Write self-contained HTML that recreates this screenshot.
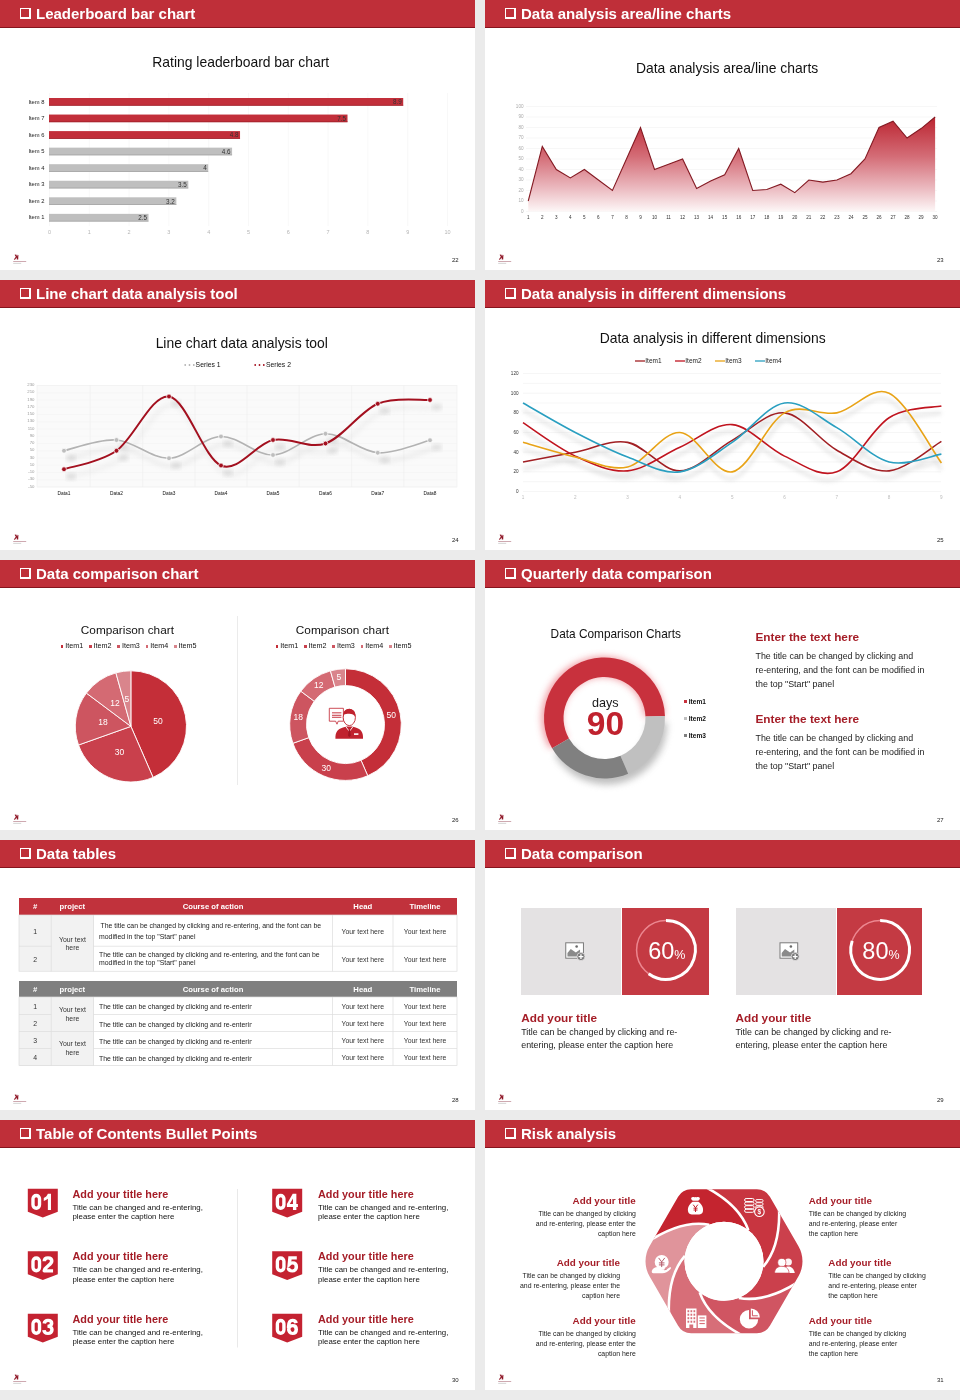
<!DOCTYPE html><html><head><meta charset="utf-8"><style>
*{box-sizing:border-box}
body{margin:0;background:#ebebeb;width:960px;height:1400px;position:relative;overflow:hidden;font-family:"Liberation Sans",sans-serif;color:#222}
.s{position:absolute;width:475px;height:270px;background:#fff;overflow:hidden;will-change:transform}
.hd{position:absolute;left:0;top:0;width:475px;height:28px;background:#bf2f39;border-bottom:1px solid #86141d;color:#fff;font-weight:bold;font-size:15px;line-height:28px;padding-left:36px;white-space:nowrap}
.cb{position:absolute;left:20px;top:8px;width:11px;height:11px;border:1px solid #fff;border-right-width:2px;border-bottom-width:2px}
.pn{position:absolute;left:446.3px;top:257.2px;width:12.3px;text-align:right;font-size:6px;line-height:7px;color:#222}
.logo{position:absolute}
.a{position:absolute;white-space:nowrap}
.t{position:absolute;white-space:nowrap;text-align:center;font-size:14px;color:#111}
svg{position:absolute;left:0;top:0;overflow:visible}
</style></head><body><div class="s" style="left:0px;top:0px"><div class="hd"><span class="cb"></span>Leaderboard bar chart</div><div class="a" style="left:240.75px;top:54.01px;width:0;font-size:13.90px;line-height:15.98px;color:#111;"><span style="position:absolute;left:0;top:0;transform:translateX(-50%)">Rating leaderboard bar chart</span></div><svg width="475" height="270"><line x1="49.5" y1="93" x2="49.5" y2="226" stroke="#f4f4f4" stroke-width="0.6"/><line x1="89.3" y1="93" x2="89.3" y2="226" stroke="#f4f4f4" stroke-width="0.6"/><line x1="129.1" y1="93" x2="129.1" y2="226" stroke="#f4f4f4" stroke-width="0.6"/><line x1="168.9" y1="93" x2="168.9" y2="226" stroke="#f4f4f4" stroke-width="0.6"/><line x1="208.7" y1="93" x2="208.7" y2="226" stroke="#f4f4f4" stroke-width="0.6"/><line x1="248.5" y1="93" x2="248.5" y2="226" stroke="#f4f4f4" stroke-width="0.6"/><line x1="288.3" y1="93" x2="288.3" y2="226" stroke="#f4f4f4" stroke-width="0.6"/><line x1="328.1" y1="93" x2="328.1" y2="226" stroke="#f4f4f4" stroke-width="0.6"/><line x1="367.9" y1="93" x2="367.9" y2="226" stroke="#f4f4f4" stroke-width="0.6"/><line x1="407.7" y1="93" x2="407.7" y2="226" stroke="#f4f4f4" stroke-width="0.6"/><line x1="447.5" y1="93" x2="447.5" y2="226" stroke="#f4f4f4" stroke-width="0.6"/><rect x="49" y="98.00" width="354.22" height="7.5" fill="#c22f3a"/><rect x="49" y="104.90" width="354.22" height="0.8" fill="#9e1f28"/><rect x="49" y="114.55" width="298.50" height="7.5" fill="#c22f3a"/><rect x="49" y="121.45" width="298.50" height="0.8" fill="#9e1f28"/><rect x="49" y="131.10" width="191.04" height="7.5" fill="#c22f3a"/><rect x="49" y="138.00" width="191.04" height="0.8" fill="#9e1f28"/><rect x="49" y="147.65" width="183.08" height="7.5" fill="#bfbfbf"/><rect x="49" y="154.55" width="183.08" height="0.8" fill="#a3a3a3"/><rect x="49" y="164.20" width="159.20" height="7.5" fill="#bfbfbf"/><rect x="49" y="171.10" width="159.20" height="0.8" fill="#a3a3a3"/><rect x="49" y="180.75" width="139.30" height="7.5" fill="#bfbfbf"/><rect x="49" y="187.65" width="139.30" height="0.8" fill="#a3a3a3"/><rect x="49" y="197.30" width="127.36" height="7.5" fill="#bfbfbf"/><rect x="49" y="204.20" width="127.36" height="0.8" fill="#a3a3a3"/><rect x="49" y="213.85" width="99.50" height="7.5" fill="#bfbfbf"/><rect x="49" y="220.75" width="99.50" height="0.8" fill="#a3a3a3"/></svg><div class="a" style="right:430.50px;top:98.57px;font-size:5.80px;line-height:6.67px;color:#222;">Item 8</div><div class="a" style="right:73.28px;top:98.28px;font-size:6.30px;line-height:7.24px;color:#333;">8.9</div><div class="a" style="right:430.50px;top:115.12px;font-size:5.80px;line-height:6.67px;color:#222;">Item 7</div><div class="a" style="right:129.00px;top:114.83px;font-size:6.30px;line-height:7.24px;color:#333;">7.5</div><div class="a" style="right:430.50px;top:131.66px;font-size:5.80px;line-height:6.67px;color:#222;">Item 6</div><div class="a" style="right:236.46px;top:131.38px;font-size:6.30px;line-height:7.24px;color:#333;">4.8</div><div class="a" style="right:430.50px;top:148.22px;font-size:5.80px;line-height:6.67px;color:#222;">Item 5</div><div class="a" style="right:244.42px;top:147.93px;font-size:6.30px;line-height:7.24px;color:#333;">4.6</div><div class="a" style="right:430.50px;top:164.76px;font-size:5.80px;line-height:6.67px;color:#222;">Item 4</div><div class="a" style="right:268.30px;top:164.48px;font-size:6.30px;line-height:7.24px;color:#333;">4</div><div class="a" style="right:430.50px;top:181.31px;font-size:5.80px;line-height:6.67px;color:#222;">Item 3</div><div class="a" style="right:288.20px;top:181.03px;font-size:6.30px;line-height:7.24px;color:#333;">3.5</div><div class="a" style="right:430.50px;top:197.87px;font-size:5.80px;line-height:6.67px;color:#222;">Item 2</div><div class="a" style="right:300.14px;top:197.58px;font-size:6.30px;line-height:7.24px;color:#333;">3.2</div><div class="a" style="right:430.50px;top:214.42px;font-size:5.80px;line-height:6.67px;color:#222;">Item 1</div><div class="a" style="right:328.00px;top:214.13px;font-size:6.30px;line-height:7.24px;color:#333;">2.5</div><div class="a" style="left:49.50px;top:229.34px;width:0;font-size:5.50px;line-height:6.32px;color:#b5b5b5;"><span style="position:absolute;left:0;top:0;transform:translateX(-50%)">0</span></div><div class="a" style="left:89.30px;top:229.34px;width:0;font-size:5.50px;line-height:6.32px;color:#b5b5b5;"><span style="position:absolute;left:0;top:0;transform:translateX(-50%)">1</span></div><div class="a" style="left:129.10px;top:229.34px;width:0;font-size:5.50px;line-height:6.32px;color:#b5b5b5;"><span style="position:absolute;left:0;top:0;transform:translateX(-50%)">2</span></div><div class="a" style="left:168.90px;top:229.34px;width:0;font-size:5.50px;line-height:6.32px;color:#b5b5b5;"><span style="position:absolute;left:0;top:0;transform:translateX(-50%)">3</span></div><div class="a" style="left:208.70px;top:229.34px;width:0;font-size:5.50px;line-height:6.32px;color:#b5b5b5;"><span style="position:absolute;left:0;top:0;transform:translateX(-50%)">4</span></div><div class="a" style="left:248.50px;top:229.34px;width:0;font-size:5.50px;line-height:6.32px;color:#b5b5b5;"><span style="position:absolute;left:0;top:0;transform:translateX(-50%)">5</span></div><div class="a" style="left:288.30px;top:229.34px;width:0;font-size:5.50px;line-height:6.32px;color:#b5b5b5;"><span style="position:absolute;left:0;top:0;transform:translateX(-50%)">6</span></div><div class="a" style="left:328.10px;top:229.34px;width:0;font-size:5.50px;line-height:6.32px;color:#b5b5b5;"><span style="position:absolute;left:0;top:0;transform:translateX(-50%)">7</span></div><div class="a" style="left:367.90px;top:229.34px;width:0;font-size:5.50px;line-height:6.32px;color:#b5b5b5;"><span style="position:absolute;left:0;top:0;transform:translateX(-50%)">8</span></div><div class="a" style="left:407.70px;top:229.34px;width:0;font-size:5.50px;line-height:6.32px;color:#b5b5b5;"><span style="position:absolute;left:0;top:0;transform:translateX(-50%)">9</span></div><div class="a" style="left:447.50px;top:229.34px;width:0;font-size:5.50px;line-height:6.32px;color:#b5b5b5;"><span style="position:absolute;left:0;top:0;transform:translateX(-50%)">10</span></div><svg class="logo" width="16" height="12" viewBox="0 0 16 12" style="left:12px;top:253px"><path d="M2.6 1.8 L4.2 1.6 L5.2 3.6 L5.6 1.8 L6.4 2 L6.2 6.6 L4.8 6.6 L4.6 4.6 L3 6.8 L1.8 6.6 L3.8 3.8Z" fill="#8e1525"/><rect x="1.2" y="8" width="13" height="0.9" fill="#c9a0a8"/><rect x="1.2" y="9.9" width="8" height="0.7" fill="#c4c4c4"/></svg><div class="pn">22</div></div><div class="s" style="left:485px;top:0px"><div class="hd"><span class="cb"></span>Data analysis area/line charts</div><div class="a" style="left:242.10px;top:59.51px;width:0;font-size:13.90px;line-height:15.98px;color:#111;"><span style="position:absolute;left:0;top:0;transform:translateX(-50%)">Data analysis area/line charts</span></div><svg width="475" height="270"><defs><linearGradient id="ag" x1="0" y1="117.0" x2="0" y2="211.5" gradientUnits="userSpaceOnUse"><stop offset="0" stop-color="#bb2430"/><stop offset="0.42" stop-color="#d46d77"/><stop offset="0.75" stop-color="#ebb9bf"/><stop offset="1" stop-color="#fdf7f7"/></linearGradient></defs><line x1="41" y1="211.50" x2="452" y2="211.50" stroke="#f3f3f3" stroke-width="0.7"/><line x1="41" y1="201.00" x2="452" y2="201.00" stroke="#f3f3f3" stroke-width="0.7"/><line x1="41" y1="190.50" x2="452" y2="190.50" stroke="#f3f3f3" stroke-width="0.7"/><line x1="41" y1="180.00" x2="452" y2="180.00" stroke="#f3f3f3" stroke-width="0.7"/><line x1="41" y1="169.50" x2="452" y2="169.50" stroke="#f3f3f3" stroke-width="0.7"/><line x1="41" y1="159.00" x2="452" y2="159.00" stroke="#f3f3f3" stroke-width="0.7"/><line x1="41" y1="148.50" x2="452" y2="148.50" stroke="#f3f3f3" stroke-width="0.7"/><line x1="41" y1="138.00" x2="452" y2="138.00" stroke="#f3f3f3" stroke-width="0.7"/><line x1="41" y1="127.50" x2="452" y2="127.50" stroke="#f3f3f3" stroke-width="0.7"/><line x1="41" y1="117.00" x2="452" y2="117.00" stroke="#f3f3f3" stroke-width="0.7"/><line x1="41" y1="106.50" x2="452" y2="106.50" stroke="#f3f3f3" stroke-width="0.7"/><path d="M43.25 201.00 L57.28 146.40 L71.31 169.50 L85.34 177.90 L99.37 169.50 L113.40 180.00 L127.43 190.50 L141.46 159.00 L155.49 127.50 L169.52 169.50 L183.55 164.25 L197.58 159.00 L211.61 188.40 L225.64 181.05 L239.67 174.75 L253.70 148.50 L267.73 190.50 L281.76 189.45 L295.79 184.20 L309.82 192.60 L323.85 180.00 L337.88 182.10 L351.91 180.00 L365.94 173.70 L379.97 159.00 L394.00 127.50 L408.03 121.20 L422.06 138.00 L436.09 128.55 L450.12 117.00 L450.12 211.5 L43.25 211.5Z" fill="url(#ag)"/><path d="M43.25 201.00 L57.28 146.40 L71.31 169.50 L85.34 177.90 L99.37 169.50 L113.40 180.00 L127.43 190.50 L141.46 159.00 L155.49 127.50 L169.52 169.50 L183.55 164.25 L197.58 159.00 L211.61 188.40 L225.64 181.05 L239.67 174.75 L253.70 148.50 L267.73 190.50 L281.76 189.45 L295.79 184.20 L309.82 192.60 L323.85 180.00 L337.88 182.10 L351.91 180.00 L365.94 173.70 L379.97 159.00 L394.00 127.50 L408.03 121.20 L422.06 138.00 L436.09 128.55 L450.12 117.00" fill="none" stroke="#841a23" stroke-width="1.1"/></svg><div class="a" style="right:436.50px;top:208.85px;font-size:4.60px;line-height:5.29px;color:#aaa;">0</div><div class="a" style="right:436.50px;top:198.35px;font-size:4.60px;line-height:5.29px;color:#aaa;">10</div><div class="a" style="right:436.50px;top:187.85px;font-size:4.60px;line-height:5.29px;color:#aaa;">20</div><div class="a" style="right:436.50px;top:177.35px;font-size:4.60px;line-height:5.29px;color:#aaa;">30</div><div class="a" style="right:436.50px;top:166.85px;font-size:4.60px;line-height:5.29px;color:#aaa;">40</div><div class="a" style="right:436.50px;top:156.35px;font-size:4.60px;line-height:5.29px;color:#aaa;">50</div><div class="a" style="right:436.50px;top:145.85px;font-size:4.60px;line-height:5.29px;color:#aaa;">60</div><div class="a" style="right:436.50px;top:135.35px;font-size:4.60px;line-height:5.29px;color:#aaa;">70</div><div class="a" style="right:436.50px;top:124.86px;font-size:4.60px;line-height:5.29px;color:#aaa;">80</div><div class="a" style="right:436.50px;top:114.36px;font-size:4.60px;line-height:5.29px;color:#aaa;">90</div><div class="a" style="right:436.50px;top:103.86px;font-size:4.60px;line-height:5.29px;color:#aaa;">100</div><div class="a" style="left:43.25px;top:214.85px;width:0;font-size:4.60px;line-height:5.29px;color:#333;"><span style="position:absolute;left:0;top:0;transform:translateX(-50%)">1</span></div><div class="a" style="left:57.28px;top:214.85px;width:0;font-size:4.60px;line-height:5.29px;color:#333;"><span style="position:absolute;left:0;top:0;transform:translateX(-50%)">2</span></div><div class="a" style="left:71.31px;top:214.85px;width:0;font-size:4.60px;line-height:5.29px;color:#333;"><span style="position:absolute;left:0;top:0;transform:translateX(-50%)">3</span></div><div class="a" style="left:85.34px;top:214.85px;width:0;font-size:4.60px;line-height:5.29px;color:#333;"><span style="position:absolute;left:0;top:0;transform:translateX(-50%)">4</span></div><div class="a" style="left:99.37px;top:214.85px;width:0;font-size:4.60px;line-height:5.29px;color:#333;"><span style="position:absolute;left:0;top:0;transform:translateX(-50%)">5</span></div><div class="a" style="left:113.40px;top:214.85px;width:0;font-size:4.60px;line-height:5.29px;color:#333;"><span style="position:absolute;left:0;top:0;transform:translateX(-50%)">6</span></div><div class="a" style="left:127.43px;top:214.85px;width:0;font-size:4.60px;line-height:5.29px;color:#333;"><span style="position:absolute;left:0;top:0;transform:translateX(-50%)">7</span></div><div class="a" style="left:141.46px;top:214.85px;width:0;font-size:4.60px;line-height:5.29px;color:#333;"><span style="position:absolute;left:0;top:0;transform:translateX(-50%)">8</span></div><div class="a" style="left:155.49px;top:214.85px;width:0;font-size:4.60px;line-height:5.29px;color:#333;"><span style="position:absolute;left:0;top:0;transform:translateX(-50%)">9</span></div><div class="a" style="left:169.52px;top:214.85px;width:0;font-size:4.60px;line-height:5.29px;color:#333;"><span style="position:absolute;left:0;top:0;transform:translateX(-50%)">10</span></div><div class="a" style="left:183.55px;top:214.85px;width:0;font-size:4.60px;line-height:5.29px;color:#333;"><span style="position:absolute;left:0;top:0;transform:translateX(-50%)">11</span></div><div class="a" style="left:197.58px;top:214.85px;width:0;font-size:4.60px;line-height:5.29px;color:#333;"><span style="position:absolute;left:0;top:0;transform:translateX(-50%)">12</span></div><div class="a" style="left:211.61px;top:214.85px;width:0;font-size:4.60px;line-height:5.29px;color:#333;"><span style="position:absolute;left:0;top:0;transform:translateX(-50%)">13</span></div><div class="a" style="left:225.64px;top:214.85px;width:0;font-size:4.60px;line-height:5.29px;color:#333;"><span style="position:absolute;left:0;top:0;transform:translateX(-50%)">14</span></div><div class="a" style="left:239.67px;top:214.85px;width:0;font-size:4.60px;line-height:5.29px;color:#333;"><span style="position:absolute;left:0;top:0;transform:translateX(-50%)">15</span></div><div class="a" style="left:253.70px;top:214.85px;width:0;font-size:4.60px;line-height:5.29px;color:#333;"><span style="position:absolute;left:0;top:0;transform:translateX(-50%)">16</span></div><div class="a" style="left:267.73px;top:214.85px;width:0;font-size:4.60px;line-height:5.29px;color:#333;"><span style="position:absolute;left:0;top:0;transform:translateX(-50%)">17</span></div><div class="a" style="left:281.76px;top:214.85px;width:0;font-size:4.60px;line-height:5.29px;color:#333;"><span style="position:absolute;left:0;top:0;transform:translateX(-50%)">18</span></div><div class="a" style="left:295.79px;top:214.85px;width:0;font-size:4.60px;line-height:5.29px;color:#333;"><span style="position:absolute;left:0;top:0;transform:translateX(-50%)">19</span></div><div class="a" style="left:309.82px;top:214.85px;width:0;font-size:4.60px;line-height:5.29px;color:#333;"><span style="position:absolute;left:0;top:0;transform:translateX(-50%)">20</span></div><div class="a" style="left:323.85px;top:214.85px;width:0;font-size:4.60px;line-height:5.29px;color:#333;"><span style="position:absolute;left:0;top:0;transform:translateX(-50%)">21</span></div><div class="a" style="left:337.88px;top:214.85px;width:0;font-size:4.60px;line-height:5.29px;color:#333;"><span style="position:absolute;left:0;top:0;transform:translateX(-50%)">22</span></div><div class="a" style="left:351.91px;top:214.85px;width:0;font-size:4.60px;line-height:5.29px;color:#333;"><span style="position:absolute;left:0;top:0;transform:translateX(-50%)">23</span></div><div class="a" style="left:365.94px;top:214.85px;width:0;font-size:4.60px;line-height:5.29px;color:#333;"><span style="position:absolute;left:0;top:0;transform:translateX(-50%)">24</span></div><div class="a" style="left:379.97px;top:214.85px;width:0;font-size:4.60px;line-height:5.29px;color:#333;"><span style="position:absolute;left:0;top:0;transform:translateX(-50%)">25</span></div><div class="a" style="left:394.00px;top:214.85px;width:0;font-size:4.60px;line-height:5.29px;color:#333;"><span style="position:absolute;left:0;top:0;transform:translateX(-50%)">26</span></div><div class="a" style="left:408.03px;top:214.85px;width:0;font-size:4.60px;line-height:5.29px;color:#333;"><span style="position:absolute;left:0;top:0;transform:translateX(-50%)">27</span></div><div class="a" style="left:422.06px;top:214.85px;width:0;font-size:4.60px;line-height:5.29px;color:#333;"><span style="position:absolute;left:0;top:0;transform:translateX(-50%)">28</span></div><div class="a" style="left:436.09px;top:214.85px;width:0;font-size:4.60px;line-height:5.29px;color:#333;"><span style="position:absolute;left:0;top:0;transform:translateX(-50%)">29</span></div><div class="a" style="left:450.12px;top:214.85px;width:0;font-size:4.60px;line-height:5.29px;color:#333;"><span style="position:absolute;left:0;top:0;transform:translateX(-50%)">30</span></div><svg class="logo" width="16" height="12" viewBox="0 0 16 12" style="left:12px;top:253px"><path d="M2.6 1.8 L4.2 1.6 L5.2 3.6 L5.6 1.8 L6.4 2 L6.2 6.6 L4.8 6.6 L4.6 4.6 L3 6.8 L1.8 6.6 L3.8 3.8Z" fill="#8e1525"/><rect x="1.2" y="8" width="13" height="0.9" fill="#c9a0a8"/><rect x="1.2" y="9.9" width="8" height="0.7" fill="#c4c4c4"/></svg><div class="pn">23</div></div><div class="s" style="left:0px;top:280px"><div class="hd"><span class="cb"></span>Line chart data analysis tool</div><div class="a" style="left:241.75px;top:55.01px;width:0;font-size:13.90px;line-height:15.98px;color:#111;"><span style="position:absolute;left:0;top:0;transform:translateX(-50%)">Line chart data analysis tool</span></div><svg width="475" height="270"><defs><filter id="sh3" x="-10%" y="-50%" width="120%" height="200%"><feGaussianBlur stdDeviation="2.5"/></filter></defs><rect x="37" y="105.5" width="420" height="101.5" fill="#fafafa" stroke="#efefef" stroke-width="0.6"/><line x1="37" y1="105.50" x2="457" y2="105.50" stroke="#f3f3f3" stroke-width="0.5"/><line x1="37" y1="112.75" x2="457" y2="112.75" stroke="#f3f3f3" stroke-width="0.5"/><line x1="37" y1="120.00" x2="457" y2="120.00" stroke="#f3f3f3" stroke-width="0.5"/><line x1="37" y1="127.25" x2="457" y2="127.25" stroke="#f3f3f3" stroke-width="0.5"/><line x1="37" y1="134.50" x2="457" y2="134.50" stroke="#f3f3f3" stroke-width="0.5"/><line x1="37" y1="141.75" x2="457" y2="141.75" stroke="#f3f3f3" stroke-width="0.5"/><line x1="37" y1="149.00" x2="457" y2="149.00" stroke="#f3f3f3" stroke-width="0.5"/><line x1="37" y1="156.25" x2="457" y2="156.25" stroke="#f3f3f3" stroke-width="0.5"/><line x1="37" y1="163.50" x2="457" y2="163.50" stroke="#f3f3f3" stroke-width="0.5"/><line x1="37" y1="170.75" x2="457" y2="170.75" stroke="#f3f3f3" stroke-width="0.5"/><line x1="37" y1="178.00" x2="457" y2="178.00" stroke="#f3f3f3" stroke-width="0.5"/><line x1="37" y1="185.25" x2="457" y2="185.25" stroke="#f3f3f3" stroke-width="0.5"/><line x1="37" y1="192.50" x2="457" y2="192.50" stroke="#f3f3f3" stroke-width="0.5"/><line x1="37" y1="199.75" x2="457" y2="199.75" stroke="#f3f3f3" stroke-width="0.5"/><line x1="37" y1="207.00" x2="457" y2="207.00" stroke="#f3f3f3" stroke-width="0.5"/><line x1="90.25" y1="105.5" x2="90.25" y2="207" stroke="#eeeeee" stroke-width="0.6"/><line x1="142.75" y1="105.5" x2="142.75" y2="207" stroke="#eeeeee" stroke-width="0.6"/><line x1="195.00" y1="105.5" x2="195.00" y2="207" stroke="#eeeeee" stroke-width="0.6"/><line x1="247.00" y1="105.5" x2="247.00" y2="207" stroke="#eeeeee" stroke-width="0.6"/><line x1="299.25" y1="105.5" x2="299.25" y2="207" stroke="#eeeeee" stroke-width="0.6"/><line x1="351.62" y1="105.5" x2="351.62" y2="207" stroke="#eeeeee" stroke-width="0.6"/><line x1="403.88" y1="105.5" x2="403.88" y2="207" stroke="#eeeeee" stroke-width="0.6"/><ellipse cx="71.00" cy="177.75" rx="5" ry="2.6" fill="#999" opacity="0.35" filter="url(#sh3)"/><ellipse cx="123.50" cy="167.00" rx="5" ry="2.6" fill="#999" opacity="0.35" filter="url(#sh3)"/><ellipse cx="176.00" cy="185.25" rx="5" ry="2.6" fill="#999" opacity="0.35" filter="url(#sh3)"/><ellipse cx="228.00" cy="163.50" rx="5" ry="2.6" fill="#999" opacity="0.35" filter="url(#sh3)"/><ellipse cx="280.00" cy="182.00" rx="5" ry="2.6" fill="#999" opacity="0.35" filter="url(#sh3)"/><ellipse cx="332.50" cy="160.75" rx="5" ry="2.6" fill="#999" opacity="0.35" filter="url(#sh3)"/><ellipse cx="384.75" cy="179.75" rx="5" ry="2.6" fill="#999" opacity="0.35" filter="url(#sh3)"/><ellipse cx="437.00" cy="167.25" rx="5" ry="2.6" fill="#999" opacity="0.35" filter="url(#sh3)"/><ellipse cx="71.00" cy="196.25" rx="5" ry="2.6" fill="#999" opacity="0.35" filter="url(#sh3)"/><ellipse cx="123.50" cy="177.75" rx="5" ry="2.6" fill="#999" opacity="0.35" filter="url(#sh3)"/><ellipse cx="176.00" cy="123.50" rx="5" ry="2.6" fill="#999" opacity="0.35" filter="url(#sh3)"/><ellipse cx="228.00" cy="192.50" rx="5" ry="2.6" fill="#999" opacity="0.35" filter="url(#sh3)"/><ellipse cx="280.00" cy="167.00" rx="5" ry="2.6" fill="#999" opacity="0.35" filter="url(#sh3)"/><ellipse cx="332.50" cy="170.50" rx="5" ry="2.6" fill="#999" opacity="0.35" filter="url(#sh3)"/><ellipse cx="384.75" cy="130.75" rx="5" ry="2.6" fill="#999" opacity="0.35" filter="url(#sh3)"/><ellipse cx="437.00" cy="127.00" rx="5" ry="2.6" fill="#999" opacity="0.35" filter="url(#sh3)"/><g filter="url(#sh3)" opacity="0.3" transform="translate(4,8)"><path d="M64.00 170.75 C72.75 168.96 99.00 158.75 116.50 160.00 C134.00 161.25 151.58 178.83 169.00 178.25 C186.42 177.67 203.67 157.04 221.00 156.50 C238.33 155.96 255.58 175.46 273.00 175.00 C290.42 174.54 308.04 154.12 325.50 153.75 C342.96 153.38 360.33 171.67 377.75 172.75 C395.17 173.83 421.29 162.33 430.00 160.25" fill="none" stroke="#bbb" stroke-width="3"/><path d="M64.00 189.25 C72.75 186.17 99.00 182.88 116.50 170.75 C134.00 158.62 151.58 114.04 169.00 116.50 C186.42 118.96 203.67 178.25 221.00 185.50 C238.33 192.75 255.58 163.67 273.00 160.00 C290.42 156.33 308.04 169.54 325.50 163.50 C342.96 157.46 360.33 131.00 377.75 123.75 C395.17 116.50 421.29 120.62 430.00 120.00" fill="none" stroke="#ccc" stroke-width="3"/></g><path d="M64.00 170.75 C72.75 168.96 99.00 158.75 116.50 160.00 C134.00 161.25 151.58 178.83 169.00 178.25 C186.42 177.67 203.67 157.04 221.00 156.50 C238.33 155.96 255.58 175.46 273.00 175.00 C290.42 174.54 308.04 154.12 325.50 153.75 C342.96 153.38 360.33 171.67 377.75 172.75 C395.17 173.83 421.29 162.33 430.00 160.25" fill="none" stroke="#b3b3b3" stroke-width="1.7"/><path d="M64.00 189.25 C72.75 186.17 99.00 182.88 116.50 170.75 C134.00 158.62 151.58 114.04 169.00 116.50 C186.42 118.96 203.67 178.25 221.00 185.50 C238.33 192.75 255.58 163.67 273.00 160.00 C290.42 156.33 308.04 169.54 325.50 163.50 C342.96 157.46 360.33 131.00 377.75 123.75 C395.17 116.50 421.29 120.62 430.00 120.00" fill="none" stroke="#a3101f" stroke-width="2"/><circle cx="64.00" cy="170.75" r="2.4" fill="#bdbdbd" stroke="#fff" stroke-width="0.7"/><circle cx="116.50" cy="160.00" r="2.4" fill="#bdbdbd" stroke="#fff" stroke-width="0.7"/><circle cx="169.00" cy="178.25" r="2.4" fill="#bdbdbd" stroke="#fff" stroke-width="0.7"/><circle cx="221.00" cy="156.50" r="2.4" fill="#bdbdbd" stroke="#fff" stroke-width="0.7"/><circle cx="273.00" cy="175.00" r="2.4" fill="#bdbdbd" stroke="#fff" stroke-width="0.7"/><circle cx="325.50" cy="153.75" r="2.4" fill="#bdbdbd" stroke="#fff" stroke-width="0.7"/><circle cx="377.75" cy="172.75" r="2.4" fill="#bdbdbd" stroke="#fff" stroke-width="0.7"/><circle cx="430.00" cy="160.25" r="2.4" fill="#bdbdbd" stroke="#fff" stroke-width="0.7"/><circle cx="64.00" cy="189.25" r="2.4" fill="#a3101f" stroke="#fff" stroke-width="0.7"/><circle cx="116.50" cy="170.75" r="2.4" fill="#a3101f" stroke="#fff" stroke-width="0.7"/><circle cx="169.00" cy="116.50" r="2.4" fill="#a3101f" stroke="#fff" stroke-width="0.7"/><circle cx="221.00" cy="185.50" r="2.4" fill="#a3101f" stroke="#fff" stroke-width="0.7"/><circle cx="273.00" cy="160.00" r="2.4" fill="#a3101f" stroke="#fff" stroke-width="0.7"/><circle cx="325.50" cy="163.50" r="2.4" fill="#a3101f" stroke="#fff" stroke-width="0.7"/><circle cx="377.75" cy="123.75" r="2.4" fill="#a3101f" stroke="#fff" stroke-width="0.7"/><circle cx="430.00" cy="120.00" r="2.4" fill="#a3101f" stroke="#fff" stroke-width="0.7"/><line x1="185.2" y1="85" x2="195" y2="85" stroke="#b3b3b3" stroke-width="1.8" stroke-linecap="round" stroke-dasharray="0 4.3"/><line x1="255.2" y1="85" x2="265" y2="85" stroke="#a3101f" stroke-width="1.8" stroke-linecap="round" stroke-dasharray="0 4.3"/></svg><div class="a" style="left:195.60px;top:81.09px;font-size:6.80px;line-height:7.82px;color:#111;">Series 1</div><div class="a" style="left:266.00px;top:81.09px;font-size:6.80px;line-height:7.82px;color:#111;">Series 2</div><div class="a" style="right:440.50px;top:103.03px;font-size:4.30px;line-height:4.94px;color:#999;">230</div><div class="a" style="right:440.50px;top:110.28px;font-size:4.30px;line-height:4.94px;color:#999;">210</div><div class="a" style="right:440.50px;top:117.53px;font-size:4.30px;line-height:4.94px;color:#999;">190</div><div class="a" style="right:440.50px;top:124.78px;font-size:4.30px;line-height:4.94px;color:#999;">170</div><div class="a" style="right:440.50px;top:132.03px;font-size:4.30px;line-height:4.94px;color:#999;">150</div><div class="a" style="right:440.50px;top:139.28px;font-size:4.30px;line-height:4.94px;color:#999;">130</div><div class="a" style="right:440.50px;top:146.53px;font-size:4.30px;line-height:4.94px;color:#999;">110</div><div class="a" style="right:440.50px;top:153.78px;font-size:4.30px;line-height:4.94px;color:#999;">90</div><div class="a" style="right:440.50px;top:161.03px;font-size:4.30px;line-height:4.94px;color:#999;">70</div><div class="a" style="right:440.50px;top:168.28px;font-size:4.30px;line-height:4.94px;color:#999;">50</div><div class="a" style="right:440.50px;top:175.53px;font-size:4.30px;line-height:4.94px;color:#999;">30</div><div class="a" style="right:440.50px;top:182.78px;font-size:4.30px;line-height:4.94px;color:#999;">10</div><div class="a" style="right:440.50px;top:190.03px;font-size:4.30px;line-height:4.94px;color:#999;">-10</div><div class="a" style="right:440.50px;top:197.28px;font-size:4.30px;line-height:4.94px;color:#999;">-30</div><div class="a" style="right:440.50px;top:204.53px;font-size:4.30px;line-height:4.94px;color:#999;">-50</div><div class="a" style="left:64.00px;top:211.04px;width:0;font-size:4.80px;line-height:5.52px;color:#111;"><span style="position:absolute;left:0;top:0;transform:translateX(-50%)">Data1</span></div><div class="a" style="left:116.50px;top:211.04px;width:0;font-size:4.80px;line-height:5.52px;color:#111;"><span style="position:absolute;left:0;top:0;transform:translateX(-50%)">Data2</span></div><div class="a" style="left:169.00px;top:211.04px;width:0;font-size:4.80px;line-height:5.52px;color:#111;"><span style="position:absolute;left:0;top:0;transform:translateX(-50%)">Data3</span></div><div class="a" style="left:221.00px;top:211.04px;width:0;font-size:4.80px;line-height:5.52px;color:#111;"><span style="position:absolute;left:0;top:0;transform:translateX(-50%)">Data4</span></div><div class="a" style="left:273.00px;top:211.04px;width:0;font-size:4.80px;line-height:5.52px;color:#111;"><span style="position:absolute;left:0;top:0;transform:translateX(-50%)">Data5</span></div><div class="a" style="left:325.50px;top:211.04px;width:0;font-size:4.80px;line-height:5.52px;color:#111;"><span style="position:absolute;left:0;top:0;transform:translateX(-50%)">Data6</span></div><div class="a" style="left:377.75px;top:211.04px;width:0;font-size:4.80px;line-height:5.52px;color:#111;"><span style="position:absolute;left:0;top:0;transform:translateX(-50%)">Data7</span></div><div class="a" style="left:430.00px;top:211.04px;width:0;font-size:4.80px;line-height:5.52px;color:#111;"><span style="position:absolute;left:0;top:0;transform:translateX(-50%)">Data8</span></div><svg class="logo" width="16" height="12" viewBox="0 0 16 12" style="left:12px;top:253px"><path d="M2.6 1.8 L4.2 1.6 L5.2 3.6 L5.6 1.8 L6.4 2 L6.2 6.6 L4.8 6.6 L4.6 4.6 L3 6.8 L1.8 6.6 L3.8 3.8Z" fill="#8e1525"/><rect x="1.2" y="8" width="13" height="0.9" fill="#c9a0a8"/><rect x="1.2" y="9.9" width="8" height="0.7" fill="#c4c4c4"/></svg><div class="pn">24</div></div><div class="s" style="left:485px;top:280px"><div class="hd"><span class="cb"></span>Data analysis in different dimensions</div><div class="a" style="left:227.75px;top:49.51px;width:0;font-size:13.90px;line-height:15.98px;color:#111;"><span style="position:absolute;left:0;top:0;transform:translateX(-50%)">Data analysis in different dimensions</span></div><svg width="475" height="270"><defs><filter id="sh4" x="-10%" y="-50%" width="120%" height="200%"><feGaussianBlur stdDeviation="2"/></filter></defs><line x1="38" y1="211.50" x2="456" y2="211.50" stroke="#f0f0f0" stroke-width="0.6"/><line x1="38" y1="201.67" x2="456" y2="201.67" stroke="#f0f0f0" stroke-width="0.6"/><line x1="38" y1="191.84" x2="456" y2="191.84" stroke="#f0f0f0" stroke-width="0.6"/><line x1="38" y1="182.01" x2="456" y2="182.01" stroke="#f0f0f0" stroke-width="0.6"/><line x1="38" y1="172.18" x2="456" y2="172.18" stroke="#f0f0f0" stroke-width="0.6"/><line x1="38" y1="162.35" x2="456" y2="162.35" stroke="#f0f0f0" stroke-width="0.6"/><line x1="38" y1="152.52" x2="456" y2="152.52" stroke="#f0f0f0" stroke-width="0.6"/><line x1="38" y1="142.69" x2="456" y2="142.69" stroke="#f0f0f0" stroke-width="0.6"/><line x1="38" y1="132.86" x2="456" y2="132.86" stroke="#f0f0f0" stroke-width="0.6"/><line x1="38" y1="123.03" x2="456" y2="123.03" stroke="#f0f0f0" stroke-width="0.6"/><line x1="38" y1="113.20" x2="456" y2="113.20" stroke="#f0f0f0" stroke-width="0.6"/><line x1="38" y1="103.37" x2="456" y2="103.37" stroke="#f0f0f0" stroke-width="0.6"/><line x1="38" y1="93.54" x2="456" y2="93.54" stroke="#f0f0f0" stroke-width="0.6"/><g filter="url(#sh4)" opacity="0.38" transform="translate(0,7)"><path d="M38.00 182.01 C46.72 180.37 72.87 175.46 90.30 172.18 C107.73 168.90 125.17 159.24 142.60 162.35 C160.03 165.46 177.47 191.18 194.90 190.86 C212.33 190.53 229.77 170.05 247.20 160.38 C264.63 150.72 282.07 131.22 299.50 132.86 C316.93 134.50 334.37 160.55 351.80 170.21 C369.23 179.88 386.67 192.33 404.10 190.86 C421.53 189.38 447.68 166.28 456.40 161.37" fill="none" stroke="#bbb" stroke-width="3"/><path d="M38.00 142.69 C46.72 148.26 72.87 168.08 90.30 176.11 C107.73 184.14 125.17 192.33 142.60 190.86 C160.03 189.38 177.47 174.97 194.90 167.26 C212.33 159.56 229.77 143.18 247.20 144.66 C264.63 146.13 282.07 168.25 299.50 176.11 C316.93 183.98 334.37 198.23 351.80 191.84 C369.23 185.45 386.67 148.75 404.10 137.78 C421.53 126.80 447.68 127.94 456.40 125.98" fill="none" stroke="#bbb" stroke-width="3"/><path d="M38.00 162.35 C46.72 164.81 72.87 173.00 90.30 177.09 C107.73 181.19 125.17 191.02 142.60 186.93 C160.03 182.83 177.47 151.70 194.90 152.52 C212.33 153.34 229.77 195.12 247.20 191.84 C264.63 188.56 282.07 142.69 299.50 132.86 C316.93 123.03 334.37 136.14 351.80 132.86 C369.23 129.58 386.67 104.84 404.10 113.20 C421.53 121.56 447.68 171.36 456.40 182.99" fill="none" stroke="#bbb" stroke-width="3"/><path d="M38.00 123.03 C46.72 127.95 72.87 143.51 90.30 152.52 C107.73 161.53 125.17 170.54 142.60 177.09 C160.03 183.65 177.47 194.30 194.90 191.84 C212.33 189.38 229.77 173.82 247.20 162.35 C264.63 150.88 282.07 125.49 299.50 123.03 C316.93 120.57 334.37 137.78 351.80 147.61 C369.23 157.44 386.67 177.59 404.10 182.01 C421.53 186.43 447.68 175.46 456.40 174.15" fill="none" stroke="#bbb" stroke-width="3"/></g><path d="M38.00 182.01 C46.72 180.37 72.87 175.46 90.30 172.18 C107.73 168.90 125.17 159.24 142.60 162.35 C160.03 165.46 177.47 191.18 194.90 190.86 C212.33 190.53 229.77 170.05 247.20 160.38 C264.63 150.72 282.07 131.22 299.50 132.86 C316.93 134.50 334.37 160.55 351.80 170.21 C369.23 179.88 386.67 192.33 404.10 190.86 C421.53 189.38 447.68 166.28 456.40 161.37" fill="none" stroke="#a11f23" stroke-width="1.6"/><path d="M38.00 142.69 C46.72 148.26 72.87 168.08 90.30 176.11 C107.73 184.14 125.17 192.33 142.60 190.86 C160.03 189.38 177.47 174.97 194.90 167.26 C212.33 159.56 229.77 143.18 247.20 144.66 C264.63 146.13 282.07 168.25 299.50 176.11 C316.93 183.98 334.37 198.23 351.80 191.84 C369.23 185.45 386.67 148.75 404.10 137.78 C421.53 126.80 447.68 127.94 456.40 125.98" fill="none" stroke="#c0141f" stroke-width="1.6"/><path d="M38.00 162.35 C46.72 164.81 72.87 173.00 90.30 177.09 C107.73 181.19 125.17 191.02 142.60 186.93 C160.03 182.83 177.47 151.70 194.90 152.52 C212.33 153.34 229.77 195.12 247.20 191.84 C264.63 188.56 282.07 142.69 299.50 132.86 C316.93 123.03 334.37 136.14 351.80 132.86 C369.23 129.58 386.67 104.84 404.10 113.20 C421.53 121.56 447.68 171.36 456.40 182.99" fill="none" stroke="#e8a317" stroke-width="1.6"/><path d="M38.00 123.03 C46.72 127.95 72.87 143.51 90.30 152.52 C107.73 161.53 125.17 170.54 142.60 177.09 C160.03 183.65 177.47 194.30 194.90 191.84 C212.33 189.38 229.77 173.82 247.20 162.35 C264.63 150.88 282.07 125.49 299.50 123.03 C316.93 120.57 334.37 137.78 351.80 147.61 C369.23 157.44 386.67 177.59 404.10 182.01 C421.53 186.43 447.68 175.46 456.40 174.15" fill="none" stroke="#2a9fc0" stroke-width="1.6"/><line x1="150" y1="81" x2="160" y2="81" stroke="#a11f23" stroke-width="1.3"/><line x1="190" y1="81" x2="200" y2="81" stroke="#c0141f" stroke-width="1.3"/><line x1="230" y1="81" x2="240" y2="81" stroke="#e8a317" stroke-width="1.3"/><line x1="270" y1="81" x2="280" y2="81" stroke="#2a9fc0" stroke-width="1.3"/></svg><div class="a" style="left:160.30px;top:77.26px;font-size:6.50px;line-height:7.47px;color:#222;">Item1</div><div class="a" style="left:200.30px;top:77.26px;font-size:6.50px;line-height:7.47px;color:#222;">Item2</div><div class="a" style="left:240.30px;top:77.26px;font-size:6.50px;line-height:7.47px;color:#222;">Item3</div><div class="a" style="left:280.30px;top:77.26px;font-size:6.50px;line-height:7.47px;color:#222;">Item4</div><div class="a" style="right:441.50px;top:208.85px;font-size:4.60px;line-height:5.29px;color:#333;">0</div><div class="a" style="right:441.50px;top:189.19px;font-size:4.60px;line-height:5.29px;color:#333;">20</div><div class="a" style="right:441.50px;top:169.53px;font-size:4.60px;line-height:5.29px;color:#333;">40</div><div class="a" style="right:441.50px;top:149.88px;font-size:4.60px;line-height:5.29px;color:#333;">60</div><div class="a" style="right:441.50px;top:130.22px;font-size:4.60px;line-height:5.29px;color:#333;">80</div><div class="a" style="right:441.50px;top:110.56px;font-size:4.60px;line-height:5.29px;color:#333;">100</div><div class="a" style="right:441.50px;top:90.90px;font-size:4.60px;line-height:5.29px;color:#333;">120</div><div class="a" style="left:38.00px;top:214.85px;width:0;font-size:4.60px;line-height:5.29px;color:#bbb;"><span style="position:absolute;left:0;top:0;transform:translateX(-50%)">1</span></div><div class="a" style="left:90.30px;top:214.85px;width:0;font-size:4.60px;line-height:5.29px;color:#bbb;"><span style="position:absolute;left:0;top:0;transform:translateX(-50%)">2</span></div><div class="a" style="left:142.60px;top:214.85px;width:0;font-size:4.60px;line-height:5.29px;color:#bbb;"><span style="position:absolute;left:0;top:0;transform:translateX(-50%)">3</span></div><div class="a" style="left:194.90px;top:214.85px;width:0;font-size:4.60px;line-height:5.29px;color:#bbb;"><span style="position:absolute;left:0;top:0;transform:translateX(-50%)">4</span></div><div class="a" style="left:247.20px;top:214.85px;width:0;font-size:4.60px;line-height:5.29px;color:#bbb;"><span style="position:absolute;left:0;top:0;transform:translateX(-50%)">5</span></div><div class="a" style="left:299.50px;top:214.85px;width:0;font-size:4.60px;line-height:5.29px;color:#bbb;"><span style="position:absolute;left:0;top:0;transform:translateX(-50%)">6</span></div><div class="a" style="left:351.80px;top:214.85px;width:0;font-size:4.60px;line-height:5.29px;color:#bbb;"><span style="position:absolute;left:0;top:0;transform:translateX(-50%)">7</span></div><div class="a" style="left:404.10px;top:214.85px;width:0;font-size:4.60px;line-height:5.29px;color:#bbb;"><span style="position:absolute;left:0;top:0;transform:translateX(-50%)">8</span></div><div class="a" style="left:456.40px;top:214.85px;width:0;font-size:4.60px;line-height:5.29px;color:#bbb;"><span style="position:absolute;left:0;top:0;transform:translateX(-50%)">9</span></div><svg class="logo" width="16" height="12" viewBox="0 0 16 12" style="left:12px;top:253px"><path d="M2.6 1.8 L4.2 1.6 L5.2 3.6 L5.6 1.8 L6.4 2 L6.2 6.6 L4.8 6.6 L4.6 4.6 L3 6.8 L1.8 6.6 L3.8 3.8Z" fill="#8e1525"/><rect x="1.2" y="8" width="13" height="0.9" fill="#c9a0a8"/><rect x="1.2" y="9.9" width="8" height="0.7" fill="#c4c4c4"/></svg><div class="pn">25</div></div><div class="s" style="left:0px;top:560px"><div class="hd"><span class="cb"></span>Data comparison chart</div><div class="a" style="left:127.40px;top:63.72px;width:0;font-size:11.80px;line-height:13.57px;color:#111;"><span style="position:absolute;left:0;top:0;transform:translateX(-50%)">Comparison chart</span></div><div class="a" style="left:342.40px;top:63.72px;width:0;font-size:11.80px;line-height:13.57px;color:#111;"><span style="position:absolute;left:0;top:0;transform:translateX(-50%)">Comparison chart</span></div><div class="a" style="left:60.60px;top:84.80px;width:2.8px;height:2.8px;background:#c42e38"></div><div class="a" style="left:65.30px;top:81.86px;font-size:7.20px;line-height:8.28px;color:#111;">Item1</div><div class="a" style="left:88.90px;top:84.80px;width:2.8px;height:2.8px;background:#c9404c"></div><div class="a" style="left:93.60px;top:81.86px;font-size:7.20px;line-height:8.28px;color:#111;">Item2</div><div class="a" style="left:117.20px;top:84.80px;width:2.8px;height:2.8px;background:#cd5560"></div><div class="a" style="left:121.90px;top:81.86px;font-size:7.20px;line-height:8.28px;color:#111;">Item3</div><div class="a" style="left:145.50px;top:84.80px;width:2.8px;height:2.8px;background:#d46a73"></div><div class="a" style="left:150.20px;top:81.86px;font-size:7.20px;line-height:8.28px;color:#111;">Item4</div><div class="a" style="left:173.80px;top:84.80px;width:2.8px;height:2.8px;background:#d9858c"></div><div class="a" style="left:178.50px;top:81.86px;font-size:7.20px;line-height:8.28px;color:#111;">Item5</div><div class="a" style="left:275.60px;top:84.80px;width:2.8px;height:2.8px;background:#c42e38"></div><div class="a" style="left:280.30px;top:81.86px;font-size:7.20px;line-height:8.28px;color:#111;">Item1</div><div class="a" style="left:303.90px;top:84.80px;width:2.8px;height:2.8px;background:#c9404c"></div><div class="a" style="left:308.60px;top:81.86px;font-size:7.20px;line-height:8.28px;color:#111;">Item2</div><div class="a" style="left:332.20px;top:84.80px;width:2.8px;height:2.8px;background:#cd5560"></div><div class="a" style="left:336.90px;top:81.86px;font-size:7.20px;line-height:8.28px;color:#111;">Item3</div><div class="a" style="left:360.50px;top:84.80px;width:2.8px;height:2.8px;background:#d46a73"></div><div class="a" style="left:365.20px;top:81.86px;font-size:7.20px;line-height:8.28px;color:#111;">Item4</div><div class="a" style="left:388.80px;top:84.80px;width:2.8px;height:2.8px;background:#d9858c"></div><div class="a" style="left:393.50px;top:81.86px;font-size:7.20px;line-height:8.28px;color:#111;">Item5</div><svg width="475" height="270"><path d="M130.90 110.80 A55.60 55.60 0 0 1 153.05 217.40 L130.90 166.40Z" fill="#c42e38" stroke="#fff" stroke-width="0.9" stroke-linejoin="round"/><path d="M345.50 108.80 A55.80 55.80 0 0 1 367.73 215.78 L361.04 200.37 A39.00 39.00 0 0 0 345.50 125.60Z" fill="#c42e38" stroke="#fff" stroke-width="0.9"/><path d="M153.05 217.40 A55.60 55.60 0 0 1 78.51 185.02 L130.90 166.40Z" fill="#c9404c" stroke="#fff" stroke-width="0.9" stroke-linejoin="round"/><path d="M367.73 215.78 A55.80 55.80 0 0 1 292.92 183.29 L308.75 177.66 A39.00 39.00 0 0 0 361.04 200.37Z" fill="#c9404c" stroke="#fff" stroke-width="0.9"/><path d="M78.51 185.02 A55.60 55.60 0 0 1 86.37 133.11 L130.90 166.40Z" fill="#cd5560" stroke="#fff" stroke-width="0.9" stroke-linejoin="round"/><path d="M292.92 183.29 A55.80 55.80 0 0 1 300.81 131.19 L314.26 141.25 A39.00 39.00 0 0 0 308.75 177.66Z" fill="#cd5560" stroke="#fff" stroke-width="0.9"/><path d="M86.37 133.11 A55.60 55.60 0 0 1 115.90 112.86 L130.90 166.40Z" fill="#d46a73" stroke="#fff" stroke-width="0.9" stroke-linejoin="round"/><path d="M300.81 131.19 A55.80 55.80 0 0 1 330.45 110.87 L334.98 127.05 A39.00 39.00 0 0 0 314.26 141.25Z" fill="#d46a73" stroke="#fff" stroke-width="0.9"/><path d="M115.90 112.86 A55.60 55.60 0 0 1 130.90 110.80 L130.90 166.40Z" fill="#d9858c" stroke="#fff" stroke-width="0.9" stroke-linejoin="round"/><path d="M330.45 110.87 A55.80 55.80 0 0 1 345.50 108.80 L345.50 125.60 A39.00 39.00 0 0 0 334.98 127.05Z" fill="#d9858c" stroke="#fff" stroke-width="0.9"/><line x1="237.5" y1="56" x2="237.5" y2="225" stroke="#e6e6e6" stroke-width="0.8"/></svg><div class="a" style="left:158.10px;top:157.01px;width:0;font-size:8.50px;line-height:9.77px;color:#fff;"><span style="position:absolute;left:0;top:0;transform:translateX(-50%)">50</span></div><div class="a" style="left:119.40px;top:188.21px;width:0;font-size:8.50px;line-height:9.77px;color:#fff;"><span style="position:absolute;left:0;top:0;transform:translateX(-50%)">30</span></div><div class="a" style="left:103.10px;top:158.21px;width:0;font-size:8.50px;line-height:9.77px;color:#fff;"><span style="position:absolute;left:0;top:0;transform:translateX(-50%)">18</span></div><div class="a" style="left:115.00px;top:139.11px;width:0;font-size:8.50px;line-height:9.77px;color:#fff;"><span style="position:absolute;left:0;top:0;transform:translateX(-50%)">12</span></div><div class="a" style="left:126.90px;top:134.51px;width:0;font-size:8.50px;line-height:9.77px;color:#fff;"><span style="position:absolute;left:0;top:0;transform:translateX(-50%)">5</span></div><div class="a" style="left:391.25px;top:150.61px;width:0;font-size:8.50px;line-height:9.77px;color:#fff;"><span style="position:absolute;left:0;top:0;transform:translateX(-50%)">50</span></div><div class="a" style="left:326.25px;top:204.36px;width:0;font-size:8.50px;line-height:9.77px;color:#fff;"><span style="position:absolute;left:0;top:0;transform:translateX(-50%)">30</span></div><div class="a" style="left:298.25px;top:152.61px;width:0;font-size:8.50px;line-height:9.77px;color:#fff;"><span style="position:absolute;left:0;top:0;transform:translateX(-50%)">18</span></div><div class="a" style="left:318.75px;top:120.86px;width:0;font-size:8.50px;line-height:9.77px;color:#fff;"><span style="position:absolute;left:0;top:0;transform:translateX(-50%)">12</span></div><div class="a" style="left:338.75px;top:112.61px;width:0;font-size:8.50px;line-height:9.77px;color:#fff;"><span style="position:absolute;left:0;top:0;transform:translateX(-50%)">5</span></div><svg width="475" height="270"><g transform="translate(329.00 148.00)"><path d="M0.3 0.3 H14.4 V13.2 H9.2 L8 16.2 L6.6 13.2 H0.3Z" fill="#fff" stroke="#c0222e" stroke-width="0.8"/><rect x="3" y="4.4" width="9.4" height="0.9" fill="#c0222e"/><rect x="3" y="6.8" width="9.4" height="0.9" fill="#c0222e"/><rect x="3" y="8.8" width="9.4" height="0.9" fill="#c0222e"/><ellipse cx="20.3" cy="9.4" rx="6.1" ry="8.2" fill="#fff" stroke="#c0222e" stroke-width="0.9"/><path d="M14.3 7.5 C14 2.5 17 0.9 20.3 0.9 C24 0.9 26.8 3 26.4 8.8 C25 6 22 5.4 18.5 5.8 C16.5 6 15 6.6 14.3 7.5Z" fill="#c0222e"/><path d="M6.4 30.8 C6.2 24 8.5 21.5 14 19.6 L17.5 18.6 H23.3 L26.6 19.6 C32 21.5 34.2 24 34 30.8Z" fill="#c0222e"/><path d="M16.6 18.4 L20.4 23.4 L24.2 18.4" fill="none" stroke="#fff" stroke-width="0.9"/><path d="M19.7 21.8 H21.1 L21.7 27.6 L20.4 29.2 L19.1 27.6Z" fill="#9e1420"/><rect x="25" y="25.3" width="4.4" height="1.6" fill="#fff"/></g></svg><svg class="logo" width="16" height="12" viewBox="0 0 16 12" style="left:12px;top:253px"><path d="M2.6 1.8 L4.2 1.6 L5.2 3.6 L5.6 1.8 L6.4 2 L6.2 6.6 L4.8 6.6 L4.6 4.6 L3 6.8 L1.8 6.6 L3.8 3.8Z" fill="#8e1525"/><rect x="1.2" y="8" width="13" height="0.9" fill="#c9a0a8"/><rect x="1.2" y="9.9" width="8" height="0.7" fill="#c4c4c4"/></svg><div class="pn">26</div></div><div class="s" style="left:485px;top:560px"><div class="hd"><span class="cb"></span>Quarterly data comparison</div><div class="a" style="left:130.75px;top:68.19px;width:0;font-size:11.85px;line-height:13.63px;color:#111;"><span style="position:absolute;left:0;top:0;transform:translateX(-50%)">Data Comparison Charts</span></div><svg width="475" height="270"><defs><filter id="gl6" x="-50%" y="-50%" width="200%" height="200%"><feGaussianBlur stdDeviation="3.5"/></filter></defs><path d="M66.24 188.75 A61.50 61.50 0 1 1 180.96 155.85 L160.48 156.57 A41.00 41.00 0 1 0 83.99 178.50Z" fill="#e23a48" opacity="0.5" filter="url(#gl6)" transform="translate(-1.5,0)"/><path d="M179.96 155.89 A60.50 60.50 0 0 1 67.11 188.25 L83.99 178.50 A41.00 41.00 0 0 0 160.48 156.57Z" fill="#8a8a8a" opacity="0.55" filter="url(#gl6)" transform="translate(2,6)"/><path d="M67.11 188.25 A60.50 60.50 0 1 1 179.96 155.89 L160.48 156.57 A41.00 41.00 0 1 0 83.99 178.50Z" fill="#c8313d"/><path d="M179.96 155.89 A60.50 60.50 0 0 1 143.14 213.69 L135.52 195.74 A41.00 41.00 0 0 0 160.48 156.57Z" fill="#c0c0c0"/><path d="M143.14 213.69 A60.50 60.50 0 0 1 67.11 188.25 L83.99 178.50 A41.00 41.00 0 0 0 135.52 195.74Z" fill="#808080"/></svg><div class="a" style="left:120.30px;top:135.60px;width:0;font-size:12.60px;line-height:14.49px;color:#1a1a1a;"><span style="position:absolute;left:0;top:0;transform:translateX(-50%)">days</span></div><div class="a" style="left:120.40px;top:145.24px;width:0;font-size:33.50px;line-height:38.52px;color:#c0222e;font-weight:bold;"><span style="position:absolute;left:0;top:0;transform:translateX(-50%)">90</span></div><div class="a" style="left:199px;top:140.35px;width:2.8px;height:2.8px;background:#c8313d"></div><div class="a" style="left:203.70px;top:137.96px;font-size:6.60px;line-height:7.59px;color:#111;font-weight:bold;">Item1</div><div class="a" style="left:199px;top:157.35px;width:2.8px;height:2.8px;background:#c0c0c0"></div><div class="a" style="left:203.70px;top:154.96px;font-size:6.60px;line-height:7.59px;color:#111;font-weight:bold;">Item2</div><div class="a" style="left:199px;top:174.35px;width:2.8px;height:2.8px;background:#808080"></div><div class="a" style="left:203.70px;top:171.96px;font-size:6.60px;line-height:7.59px;color:#111;font-weight:bold;">Item3</div><div class="a" style="left:270.50px;top:70.72px;font-size:11.80px;line-height:13.57px;color:#a51d27;font-weight:bold;">Enter the text here</div><div class="a" style="left:270.50px;top:90.65px;font-size:8.87px;line-height:10.20px;color:#222;">The title can be changed by clicking and</div><div class="a" style="left:270.50px;top:104.65px;font-size:8.87px;line-height:10.20px;color:#222;">re-entering, and the font can be modified in</div><div class="a" style="left:270.50px;top:118.65px;font-size:8.87px;line-height:10.20px;color:#222;">the top "Start" panel</div><div class="a" style="left:270.50px;top:153.22px;font-size:11.80px;line-height:13.57px;color:#a51d27;font-weight:bold;">Enter the text here</div><div class="a" style="left:270.50px;top:172.90px;font-size:8.87px;line-height:10.20px;color:#222;">The title can be changed by clicking and</div><div class="a" style="left:270.50px;top:186.90px;font-size:8.87px;line-height:10.20px;color:#222;">re-entering, and the font can be modified in</div><div class="a" style="left:270.50px;top:200.90px;font-size:8.87px;line-height:10.20px;color:#222;">the top "Start" panel</div><svg class="logo" width="16" height="12" viewBox="0 0 16 12" style="left:12px;top:253px"><path d="M2.6 1.8 L4.2 1.6 L5.2 3.6 L5.6 1.8 L6.4 2 L6.2 6.6 L4.8 6.6 L4.6 4.6 L3 6.8 L1.8 6.6 L3.8 3.8Z" fill="#8e1525"/><rect x="1.2" y="8" width="13" height="0.9" fill="#c9a0a8"/><rect x="1.2" y="9.9" width="8" height="0.7" fill="#c4c4c4"/></svg><div class="pn">27</div></div><div class="s" style="left:0px;top:840px"><div class="hd"><span class="cb"></span>Data tables</div><div class="a" style="left:19.00px;top:58.00px;width:438.00px;height:17.00px;background:#c1323c;"></div><div class="a" style="left:19.00px;top:75.00px;width:74.50px;height:56.25px;background:#f2f2f2;"></div><svg width="475" height="270"><rect x="19.00" y="75.00" width="438.00" height="56.25" fill="none" stroke="#dcdcdc" stroke-width="0.7"/><line x1="51.25" y1="75.00" x2="51.25" y2="131.25" stroke="#dcdcdc" stroke-width="0.7"/><line x1="93.50" y1="75.00" x2="93.50" y2="131.25" stroke="#dcdcdc" stroke-width="0.7"/><line x1="332.50" y1="75.00" x2="332.50" y2="131.25" stroke="#dcdcdc" stroke-width="0.7"/><line x1="393.00" y1="75.00" x2="393.00" y2="131.25" stroke="#dcdcdc" stroke-width="0.7"/><line x1="19.00" y1="106.25" x2="51.25" y2="106.25" stroke="#dcdcdc" stroke-width="0.7"/><line x1="93.50" y1="106.25" x2="457.00" y2="106.25" stroke="#dcdcdc" stroke-width="0.7"/></svg><div class="a" style="left:35.12px;top:63.37px;width:0;font-size:7.70px;line-height:8.85px;color:#fff;font-weight:bold;"><span style="position:absolute;left:0;top:0;transform:translateX(-50%)">#</span></div><div class="a" style="left:72.38px;top:63.37px;width:0;font-size:7.70px;line-height:8.85px;color:#fff;font-weight:bold;"><span style="position:absolute;left:0;top:0;transform:translateX(-50%)">project</span></div><div class="a" style="left:213.00px;top:63.37px;width:0;font-size:7.70px;line-height:8.85px;color:#fff;font-weight:bold;"><span style="position:absolute;left:0;top:0;transform:translateX(-50%)">Course of action</span></div><div class="a" style="left:362.75px;top:63.37px;width:0;font-size:7.70px;line-height:8.85px;color:#fff;font-weight:bold;"><span style="position:absolute;left:0;top:0;transform:translateX(-50%)">Head</span></div><div class="a" style="left:425.00px;top:63.37px;width:0;font-size:7.70px;line-height:8.85px;color:#fff;font-weight:bold;"><span style="position:absolute;left:0;top:0;transform:translateX(-50%)">Timeline</span></div><div class="a" style="left:35.10px;top:88.03px;width:0;font-size:6.90px;line-height:7.93px;color:#333;"><span style="position:absolute;left:0;top:0;transform:translateX(-50%)">1</span></div><div class="a" style="left:362.75px;top:88.03px;width:0;font-size:6.90px;line-height:7.93px;color:#333;"><span style="position:absolute;left:0;top:0;transform:translateX(-50%)">Your text here</span></div><div class="a" style="left:425.00px;top:88.03px;width:0;font-size:6.90px;line-height:7.93px;color:#333;"><span style="position:absolute;left:0;top:0;transform:translateX(-50%)">Your text here</span></div><div class="a" style="left:100.50px;top:82.28px;font-size:6.90px;line-height:7.93px;color:#222;">The title can be changed by clicking and re-entering, and the font can be</div><div class="a" style="left:99.00px;top:92.93px;font-size:6.90px;line-height:7.93px;color:#222;">modified in the top "Start" panel</div><div class="a" style="left:35.10px;top:115.73px;width:0;font-size:6.90px;line-height:7.93px;color:#333;"><span style="position:absolute;left:0;top:0;transform:translateX(-50%)">2</span></div><div class="a" style="left:362.75px;top:115.73px;width:0;font-size:6.90px;line-height:7.93px;color:#333;"><span style="position:absolute;left:0;top:0;transform:translateX(-50%)">Your text here</span></div><div class="a" style="left:425.00px;top:115.73px;width:0;font-size:6.90px;line-height:7.93px;color:#333;"><span style="position:absolute;left:0;top:0;transform:translateX(-50%)">Your text here</span></div><div class="a" style="left:99.00px;top:110.78px;font-size:6.90px;line-height:7.93px;color:#222;">The title can be changed by clicking and re-entering, and the font can be</div><div class="a" style="left:99.00px;top:119.13px;font-size:6.90px;line-height:7.93px;color:#222;">modified in the top "Start" panel</div><div class="a" style="left:72.40px;top:95.63px;width:0;font-size:6.90px;line-height:7.93px;color:#333;"><span style="position:absolute;left:0;top:0;transform:translateX(-50%)">Your text</span></div><div class="a" style="left:72.40px;top:104.13px;width:0;font-size:6.90px;line-height:7.93px;color:#333;"><span style="position:absolute;left:0;top:0;transform:translateX(-50%)">here</span></div><div class="a" style="left:19.00px;top:140.50px;width:438.00px;height:16.50px;background:#7f7f7f;"></div><div class="a" style="left:19.00px;top:157.00px;width:74.50px;height:68.50px;background:#f2f2f2;"></div><svg width="475" height="270"><rect x="19.00" y="157.00" width="438.00" height="68.50" fill="none" stroke="#dcdcdc" stroke-width="0.7"/><line x1="51.25" y1="157.00" x2="51.25" y2="225.50" stroke="#dcdcdc" stroke-width="0.7"/><line x1="93.50" y1="157.00" x2="93.50" y2="225.50" stroke="#dcdcdc" stroke-width="0.7"/><line x1="332.50" y1="157.00" x2="332.50" y2="225.50" stroke="#dcdcdc" stroke-width="0.7"/><line x1="393.00" y1="157.00" x2="393.00" y2="225.50" stroke="#dcdcdc" stroke-width="0.7"/><line x1="19.00" y1="174.50" x2="51.25" y2="174.50" stroke="#dcdcdc" stroke-width="0.7"/><line x1="93.50" y1="174.50" x2="457.00" y2="174.50" stroke="#dcdcdc" stroke-width="0.7"/><line x1="19.00" y1="191.50" x2="51.25" y2="191.50" stroke="#dcdcdc" stroke-width="0.7"/><line x1="93.50" y1="191.50" x2="457.00" y2="191.50" stroke="#dcdcdc" stroke-width="0.7"/><line x1="19.00" y1="208.50" x2="51.25" y2="208.50" stroke="#dcdcdc" stroke-width="0.7"/><line x1="93.50" y1="208.50" x2="457.00" y2="208.50" stroke="#dcdcdc" stroke-width="0.7"/><line x1="51.25" y1="191.50" x2="93.50" y2="191.50" stroke="#dcdcdc" stroke-width="0.7"/></svg><div class="a" style="left:35.12px;top:145.62px;width:0;font-size:7.70px;line-height:8.85px;color:#fff;font-weight:bold;"><span style="position:absolute;left:0;top:0;transform:translateX(-50%)">#</span></div><div class="a" style="left:72.38px;top:145.62px;width:0;font-size:7.70px;line-height:8.85px;color:#fff;font-weight:bold;"><span style="position:absolute;left:0;top:0;transform:translateX(-50%)">project</span></div><div class="a" style="left:213.00px;top:145.62px;width:0;font-size:7.70px;line-height:8.85px;color:#fff;font-weight:bold;"><span style="position:absolute;left:0;top:0;transform:translateX(-50%)">Course of action</span></div><div class="a" style="left:362.75px;top:145.62px;width:0;font-size:7.70px;line-height:8.85px;color:#fff;font-weight:bold;"><span style="position:absolute;left:0;top:0;transform:translateX(-50%)">Head</span></div><div class="a" style="left:425.00px;top:145.62px;width:0;font-size:7.70px;line-height:8.85px;color:#fff;font-weight:bold;"><span style="position:absolute;left:0;top:0;transform:translateX(-50%)">Timeline</span></div><div class="a" style="left:35.10px;top:162.68px;width:0;font-size:6.90px;line-height:7.93px;color:#333;"><span style="position:absolute;left:0;top:0;transform:translateX(-50%)">1</span></div><div class="a" style="left:362.75px;top:162.68px;width:0;font-size:6.90px;line-height:7.93px;color:#333;"><span style="position:absolute;left:0;top:0;transform:translateX(-50%)">Your text here</span></div><div class="a" style="left:425.00px;top:162.68px;width:0;font-size:6.90px;line-height:7.93px;color:#333;"><span style="position:absolute;left:0;top:0;transform:translateX(-50%)">Your text here</span></div><div class="a" style="left:99px;top:163.45px;width:153px;overflow:hidden;font-size:6.9px;line-height:7.9px;color:#222">The title can be changed by clicking and re-entering</div><div class="a" style="left:35.10px;top:179.93px;width:0;font-size:6.90px;line-height:7.93px;color:#333;"><span style="position:absolute;left:0;top:0;transform:translateX(-50%)">2</span></div><div class="a" style="left:362.75px;top:179.93px;width:0;font-size:6.90px;line-height:7.93px;color:#333;"><span style="position:absolute;left:0;top:0;transform:translateX(-50%)">Your text here</span></div><div class="a" style="left:425.00px;top:179.93px;width:0;font-size:6.90px;line-height:7.93px;color:#333;"><span style="position:absolute;left:0;top:0;transform:translateX(-50%)">Your text here</span></div><div class="a" style="left:99px;top:180.70px;width:153px;overflow:hidden;font-size:6.9px;line-height:7.9px;color:#222">The title can be changed by clicking and re-entering</div><div class="a" style="left:35.10px;top:196.93px;width:0;font-size:6.90px;line-height:7.93px;color:#333;"><span style="position:absolute;left:0;top:0;transform:translateX(-50%)">3</span></div><div class="a" style="left:362.75px;top:196.93px;width:0;font-size:6.90px;line-height:7.93px;color:#333;"><span style="position:absolute;left:0;top:0;transform:translateX(-50%)">Your text here</span></div><div class="a" style="left:425.00px;top:196.93px;width:0;font-size:6.90px;line-height:7.93px;color:#333;"><span style="position:absolute;left:0;top:0;transform:translateX(-50%)">Your text here</span></div><div class="a" style="left:99px;top:197.70px;width:153px;overflow:hidden;font-size:6.9px;line-height:7.9px;color:#222">The title can be changed by clicking and re-entering</div><div class="a" style="left:35.10px;top:213.93px;width:0;font-size:6.90px;line-height:7.93px;color:#333;"><span style="position:absolute;left:0;top:0;transform:translateX(-50%)">4</span></div><div class="a" style="left:362.75px;top:213.93px;width:0;font-size:6.90px;line-height:7.93px;color:#333;"><span style="position:absolute;left:0;top:0;transform:translateX(-50%)">Your text here</span></div><div class="a" style="left:425.00px;top:213.93px;width:0;font-size:6.90px;line-height:7.93px;color:#333;"><span style="position:absolute;left:0;top:0;transform:translateX(-50%)">Your text here</span></div><div class="a" style="left:99px;top:214.70px;width:153px;overflow:hidden;font-size:6.9px;line-height:7.9px;color:#222">The title can be changed by clicking and re-entering</div><div class="a" style="left:72.40px;top:166.03px;width:0;font-size:6.90px;line-height:7.93px;color:#333;"><span style="position:absolute;left:0;top:0;transform:translateX(-50%)">Your text</span></div><div class="a" style="left:72.40px;top:174.53px;width:0;font-size:6.90px;line-height:7.93px;color:#333;"><span style="position:absolute;left:0;top:0;transform:translateX(-50%)">here</span></div><div class="a" style="left:72.40px;top:200.28px;width:0;font-size:6.90px;line-height:7.93px;color:#333;"><span style="position:absolute;left:0;top:0;transform:translateX(-50%)">Your text</span></div><div class="a" style="left:72.40px;top:208.78px;width:0;font-size:6.90px;line-height:7.93px;color:#333;"><span style="position:absolute;left:0;top:0;transform:translateX(-50%)">here</span></div><svg class="logo" width="16" height="12" viewBox="0 0 16 12" style="left:12px;top:253px"><path d="M2.6 1.8 L4.2 1.6 L5.2 3.6 L5.6 1.8 L6.4 2 L6.2 6.6 L4.8 6.6 L4.6 4.6 L3 6.8 L1.8 6.6 L3.8 3.8Z" fill="#8e1525"/><rect x="1.2" y="8" width="13" height="0.9" fill="#c9a0a8"/><rect x="1.2" y="9.9" width="8" height="0.7" fill="#c4c4c4"/></svg><div class="pn">28</div></div><div class="s" style="left:485px;top:840px"><div class="hd"><span class="cb"></span>Data comparison</div><div class="a" style="left:36.25px;top:67.50px;width:99.85px;height:87.00px;background:#e4e2e3;"></div><div class="a" style="left:137.10px;top:67.50px;width:86.65px;height:87.00px;background:#c43a43;"></div><svg width="475" height="270"><circle cx="180.98" cy="110.00" r="29.40" fill="none" stroke="#ec8790" stroke-width="1.5"/><path d="M180.98 80.60 A29.40 29.40 0 1 1 163.69 133.79" fill="none" stroke="#fff" stroke-width="3"/></svg><div class="a" style="left:163.18px;top:98.00px;color:#fff;font-size:23.5px;line-height:26px">60<span style="font-size:12.5px">%</span></div><svg width="475" height="270"><g transform="translate(80.25 102.30)"><rect x="0.5" y="0.5" width="17.7" height="15.4" fill="#fff" stroke="#7a7a7a" stroke-width="1"/><path d="M2.2 14.3 V10.8 L5.5 6.6 L10.6 10.3 L14.8 7.2 V14.3Z" fill="#8a8a8a"/><circle cx="11.4" cy="4.2" r="1.3" fill="#6a6a6a"/><circle cx="15.7" cy="14.3" r="4" fill="#7a7a7a" stroke="#e4e2e3" stroke-width="0.8"/><path d="M15.7 11.9 V16.7 M13.3 14.3 H18.1" stroke="#fff" stroke-width="1.3"/></g></svg><div class="a" style="left:36.25px;top:170.74px;font-size:11.75px;line-height:13.51px;color:#a51d27;font-weight:bold;">Add your title</div><div class="a" style="left:36.25px;top:186.88px;font-size:8.90px;line-height:10.23px;color:#222;">Title can be changed by clicking and re-</div><div class="a" style="left:36.25px;top:200.38px;font-size:8.90px;line-height:10.23px;color:#222;">entering, please enter the caption here</div><div class="a" style="left:250.50px;top:67.50px;width:100.20px;height:87.00px;background:#e4e2e3;"></div><div class="a" style="left:351.70px;top:67.50px;width:85.80px;height:87.00px;background:#c43a43;"></div><svg width="475" height="270"><circle cx="395.15" cy="110.00" r="29.40" fill="none" stroke="#ec8790" stroke-width="1.5"/><path d="M395.15 80.60 A29.40 29.40 0 1 1 367.19 100.91" fill="none" stroke="#fff" stroke-width="3"/></svg><div class="a" style="left:377.35px;top:98.00px;color:#fff;font-size:23.5px;line-height:26px">80<span style="font-size:12.5px">%</span></div><svg width="475" height="270"><g transform="translate(294.50 102.30)"><rect x="0.5" y="0.5" width="17.7" height="15.4" fill="#fff" stroke="#7a7a7a" stroke-width="1"/><path d="M2.2 14.3 V10.8 L5.5 6.6 L10.6 10.3 L14.8 7.2 V14.3Z" fill="#8a8a8a"/><circle cx="11.4" cy="4.2" r="1.3" fill="#6a6a6a"/><circle cx="15.7" cy="14.3" r="4" fill="#7a7a7a" stroke="#e4e2e3" stroke-width="0.8"/><path d="M15.7 11.9 V16.7 M13.3 14.3 H18.1" stroke="#fff" stroke-width="1.3"/></g></svg><div class="a" style="left:250.50px;top:170.74px;font-size:11.75px;line-height:13.51px;color:#a51d27;font-weight:bold;">Add your title</div><div class="a" style="left:250.50px;top:186.88px;font-size:8.90px;line-height:10.23px;color:#222;">Title can be changed by clicking and re-</div><div class="a" style="left:250.50px;top:200.38px;font-size:8.90px;line-height:10.23px;color:#222;">entering, please enter the caption here</div><svg class="logo" width="16" height="12" viewBox="0 0 16 12" style="left:12px;top:253px"><path d="M2.6 1.8 L4.2 1.6 L5.2 3.6 L5.6 1.8 L6.4 2 L6.2 6.6 L4.8 6.6 L4.6 4.6 L3 6.8 L1.8 6.6 L3.8 3.8Z" fill="#8e1525"/><rect x="1.2" y="8" width="13" height="0.9" fill="#c9a0a8"/><rect x="1.2" y="9.9" width="8" height="0.7" fill="#c4c4c4"/></svg><div class="pn">29</div></div><div class="s" style="left:0px;top:1120px"><div class="hd"><span class="cb"></span>Table of Contents Bullet Points</div><svg width="475" height="270"><path d="M27.80 68.80 H57.80 V91.80 L42.80 97.60 L27.80 91.80Z" fill="#c42231"/><g transform="translate(31.30 73.80) scale(0.990 1.006)"><rect x="1.7" y="1.7" width="6.6" height="12.6" rx="3.3" fill="none" stroke="#fff" stroke-width="3.4"/></g><g transform="translate(42.60 73.80) scale(0.975 1.006)"><path d="M5.4 0 H8.6 V16 H5.4 V5 C4.2 6 2.8 6.7 1.2 7.1 V4.1 C3 3.5 4.5 2.1 5.4 0Z" fill="#fff"/></g><path d="M27.80 131.30 H57.80 V154.30 L42.80 160.10 L27.80 154.30Z" fill="#c42231"/><g transform="translate(31.30 136.30) scale(0.990 1.006)"><rect x="1.7" y="1.7" width="6.6" height="12.6" rx="3.3" fill="none" stroke="#fff" stroke-width="3.4"/></g><g transform="translate(42.50 136.30) scale(1.100 1.006)"><path d="M1.6 5 C1.6 2.6 3.1 1.5 5 1.5 C7 1.5 8.4 2.7 8.4 4.7 C8.4 6.7 7 7.9 5.2 9.3 C3.2 10.9 2 12.2 1.6 14.5 H9.6" fill="none" stroke="#fff" stroke-width="3.2" stroke-linejoin="round"/></g><path d="M27.80 193.80 H57.80 V216.80 L42.80 222.60 L27.80 216.80Z" fill="#c42231"/><g transform="translate(31.30 198.80) scale(0.990 1.006)"><rect x="1.7" y="1.7" width="6.6" height="12.6" rx="3.3" fill="none" stroke="#fff" stroke-width="3.4"/></g><g transform="translate(42.50 198.80) scale(1.100 1.006)"><path d="M1.6 4.6 C1.9 2.5 3.2 1.5 5 1.5 C7 1.5 8.3 2.7 8.3 4.4 C8.3 6.3 6.9 7.4 4.5 7.4 C7.2 7.4 8.6 8.8 8.6 11 C8.6 13.2 7 14.6 5 14.6 C2.9 14.6 1.5 13.4 1.3 11.3" fill="none" stroke="#fff" stroke-width="3.2"/></g><path d="M272.20 68.80 H302.20 V91.80 L287.20 97.60 L272.20 91.80Z" fill="#c42231"/><g transform="translate(275.70 73.80) scale(0.990 1.006)"><rect x="1.7" y="1.7" width="6.6" height="12.6" rx="3.3" fill="none" stroke="#fff" stroke-width="3.4"/></g><g transform="translate(286.90 73.80) scale(1.100 1.006)"><path d="M5.3 0 H8.6 V10.1 H10 V13 H8.6 V16 H5.5 V13 H0 V10.2Z M5.5 10.1 V4.6 L2.6 10.1Z" fill="#fff" fill-rule="evenodd"/></g><path d="M272.20 131.30 H302.20 V154.30 L287.20 160.10 L272.20 154.30Z" fill="#c42231"/><g transform="translate(275.70 136.30) scale(0.990 1.006)"><rect x="1.7" y="1.7" width="6.6" height="12.6" rx="3.3" fill="none" stroke="#fff" stroke-width="3.4"/></g><g transform="translate(286.90 136.30) scale(1.100 1.006)"><path d="M9 1.5 H2.8 L2.2 8 C3 7.1 4 6.6 5.2 6.6 C7.3 6.6 8.6 8.2 8.6 10.6 C8.6 13 7 14.6 4.9 14.6 C3 14.6 1.6 13.5 1.3 11.6" fill="none" stroke="#fff" stroke-width="3.2"/></g><path d="M272.20 193.80 H302.20 V216.80 L287.20 222.60 L272.20 216.80Z" fill="#c42231"/><g transform="translate(275.70 198.80) scale(0.990 1.006)"><rect x="1.7" y="1.7" width="6.6" height="12.6" rx="3.3" fill="none" stroke="#fff" stroke-width="3.4"/></g><g transform="translate(286.90 198.80) scale(1.100 1.006)"><path d="M8.4 4.3 C8 2.4 6.8 1.5 5.2 1.5 C2.7 1.5 1.5 3.8 1.5 8.2 C1.5 12.4 2.8 14.6 5.1 14.6 C7.2 14.6 8.5 13 8.5 10.6 C8.5 8.3 7.2 6.8 5.2 6.8 C3.4 6.8 1.9 8 1.6 10" fill="none" stroke="#fff" stroke-width="3.2"/></g><line x1="237.5" y1="69" x2="237.5" y2="227.5" stroke="#e3e3e3" stroke-width="0.8"/></svg><div class="a" style="left:72.50px;top:67.57px;font-size:10.84px;line-height:12.47px;color:#a51d27;font-weight:bold;">Add your title here</div><div class="a" style="left:72.50px;top:82.97px;font-size:7.87px;line-height:9.05px;color:#111;">Title can be changed and re-entering,</div><div class="a" style="left:72.50px;top:92.47px;font-size:7.87px;line-height:9.05px;color:#111;">please enter the caption here</div><div class="a" style="left:72.50px;top:130.07px;font-size:10.84px;line-height:12.47px;color:#a51d27;font-weight:bold;">Add your title here</div><div class="a" style="left:72.50px;top:145.47px;font-size:7.87px;line-height:9.05px;color:#111;">Title can be changed and re-entering,</div><div class="a" style="left:72.50px;top:154.97px;font-size:7.87px;line-height:9.05px;color:#111;">please enter the caption here</div><div class="a" style="left:72.50px;top:192.57px;font-size:10.84px;line-height:12.47px;color:#a51d27;font-weight:bold;">Add your title here</div><div class="a" style="left:72.50px;top:207.97px;font-size:7.87px;line-height:9.05px;color:#111;">Title can be changed and re-entering,</div><div class="a" style="left:72.50px;top:217.47px;font-size:7.87px;line-height:9.05px;color:#111;">please enter the caption here</div><div class="a" style="left:318.00px;top:67.57px;font-size:10.84px;line-height:12.47px;color:#a51d27;font-weight:bold;">Add your title here</div><div class="a" style="left:318.00px;top:82.97px;font-size:7.87px;line-height:9.05px;color:#111;">Title can be changed and re-entering,</div><div class="a" style="left:318.00px;top:92.47px;font-size:7.87px;line-height:9.05px;color:#111;">please enter the caption here</div><div class="a" style="left:318.00px;top:130.07px;font-size:10.84px;line-height:12.47px;color:#a51d27;font-weight:bold;">Add your title here</div><div class="a" style="left:318.00px;top:145.47px;font-size:7.87px;line-height:9.05px;color:#111;">Title can be changed and re-entering,</div><div class="a" style="left:318.00px;top:154.97px;font-size:7.87px;line-height:9.05px;color:#111;">please enter the caption here</div><div class="a" style="left:318.00px;top:192.57px;font-size:10.84px;line-height:12.47px;color:#a51d27;font-weight:bold;">Add your title here</div><div class="a" style="left:318.00px;top:207.97px;font-size:7.87px;line-height:9.05px;color:#111;">Title can be changed and re-entering,</div><div class="a" style="left:318.00px;top:217.47px;font-size:7.87px;line-height:9.05px;color:#111;">please enter the caption here</div><svg class="logo" width="16" height="12" viewBox="0 0 16 12" style="left:12px;top:253px"><path d="M2.6 1.8 L4.2 1.6 L5.2 3.6 L5.6 1.8 L6.4 2 L6.2 6.6 L4.8 6.6 L4.6 4.6 L3 6.8 L1.8 6.6 L3.8 3.8Z" fill="#8e1525"/><rect x="1.2" y="8" width="13" height="0.9" fill="#c9a0a8"/><rect x="1.2" y="9.9" width="8" height="0.7" fill="#c4c4c4"/></svg><div class="pn">30</div></div><div class="s" style="left:485px;top:1120px"><div class="hd"><span class="cb"></span>Risk analysis</div><svg width="475" height="270"><defs><clipPath id="hx"><path d="M313.48 126.30 A30.00 30.00 0 0 1 313.48 156.30 L284.90 205.80 A15.00 15.00 0 0 1 271.91 213.30 L206.09 213.30 A15.00 15.00 0 0 1 193.10 205.80 L164.52 156.30 A30.00 30.00 0 0 1 164.52 126.30 L193.10 76.80 A15.00 15.00 0 0 1 206.09 69.30 L271.91 69.30 A15.00 15.00 0 0 1 284.90 76.80 Z"/></clipPath></defs><g clip-path="url(#hx)"><path d="M224.20 104.68 Q191.00 98.30 147.00 133.30 L119.45 130.90 A120 120 0 0 1 188.23 32.57 L199.93 57.63 Q252.24 78.23 263.32 110.17 A39.50 39.50 0 0 0 224.20 104.68Z" fill="#c4242f"/><path d="M263.32 110.17 Q252.24 78.23 199.93 57.63 L188.23 32.57 A120 120 0 0 1 307.78 42.97 L291.93 65.63 Q300.24 121.23 278.12 146.80 A39.50 39.50 0 0 0 263.32 110.17Z" fill="#c83540"/><path d="M278.12 146.80 Q300.24 121.23 291.93 65.63 L307.78 42.97 A120 120 0 0 1 358.55 151.70 L331.00 149.30 Q287.00 184.30 253.80 177.92 A39.50 39.50 0 0 0 278.12 146.80Z" fill="#cb404c"/><path d="M253.80 177.92 Q287.00 184.30 331.00 149.30 L358.55 151.70 A120 120 0 0 1 289.77 250.03 L278.07 224.97 Q225.76 204.37 214.68 172.43 A39.50 39.50 0 0 0 253.80 177.92Z" fill="#d05562"/><path d="M214.68 172.43 Q225.76 204.37 278.07 224.97 L289.77 250.03 A120 120 0 0 1 170.22 239.63 L186.07 216.97 Q177.76 161.37 199.88 135.80 A39.50 39.50 0 0 0 214.68 172.43Z" fill="#d76e78"/><path d="M199.88 135.80 Q177.76 161.37 186.07 216.97 L170.22 239.63 A120 120 0 0 1 119.45 130.90 L147.00 133.30 Q191.00 98.30 224.20 104.68 A39.50 39.50 0 0 0 199.88 135.80Z" fill="#e0949b"/><path d="M224.20 104.68 Q191.00 98.30 147.00 133.30" fill="none" stroke="#fff" stroke-width="2.6"/><path d="M263.32 110.17 Q252.24 78.23 199.93 57.63" fill="none" stroke="#fff" stroke-width="2.6"/><path d="M278.12 146.80 Q300.24 121.23 291.93 65.63" fill="none" stroke="#fff" stroke-width="2.6"/><path d="M253.80 177.92 Q287.00 184.30 331.00 149.30" fill="none" stroke="#fff" stroke-width="2.6"/><path d="M214.68 172.43 Q225.76 204.37 278.07 224.97" fill="none" stroke="#fff" stroke-width="2.6"/><path d="M199.88 135.80 Q177.76 161.37 186.07 216.97" fill="none" stroke="#fff" stroke-width="2.6"/></g><circle cx="239.00" cy="141.30" r="39.50" fill="#fff"/><g transform="translate(210.50 87.00)"><path d="M-4.2 -9.2 C-3 -10.6 -1.5 -9.3 0 -10 C1.5 -9.3 3 -10.6 4.2 -9.2 C4.8 -8 3.6 -6.6 2.6 -6.2 H-2.6 C-3.6 -6.6 -4.8 -8 -4.2 -9.2Z" fill="#fff"/><path d="M-2.8 -5.2 H2.8 C6.8 -2.4 8.2 1.5 7.4 4.6 C6.9 6.9 5.2 7.6 3.6 7.6 H-3.6 C-5.2 7.6 -6.9 6.9 -7.4 4.6 C-8.2 1.5 -6.8 -2.4 -2.8 -5.2Z" fill="#fff"/><path d="M-2.3 -2.3 L0 0.8 L2.3 -2.3 M0 0.8 V5 M-2 1.2 H2 M-2 3 H2" stroke="#c4242f" stroke-width="1" fill="none"/></g><g transform="translate(269.60 86.50)"><rect x="-10" y="-8.0" width="9.5" height="3" rx="1.5" fill="none" stroke="#fff" stroke-width="1"/><rect x="-10" y="-4.4" width="9.5" height="3" rx="1.5" fill="none" stroke="#fff" stroke-width="1"/><rect x="-10" y="-0.8" width="9.5" height="3" rx="1.5" fill="none" stroke="#fff" stroke-width="1"/><rect x="-10" y="2.8" width="9.5" height="3" rx="1.5" fill="none" stroke="#fff" stroke-width="1"/><rect x="1" y="-7.0" width="7.5" height="2.6" rx="1.3" fill="none" stroke="#fff" stroke-width="0.9"/><rect x="1" y="-3.8" width="7.5" height="2.6" rx="1.3" fill="none" stroke="#fff" stroke-width="0.9"/><rect x="1" y="-0.6" width="7.5" height="2.6" rx="1.3" fill="none" stroke="#fff" stroke-width="0.9"/><circle cx="4.8" cy="5.2" r="4.8" fill="#c83540" stroke="#fff" stroke-width="1.1"/><text x="4.8" y="7.6" font-size="6.5" font-family="Liberation Sans" font-weight="bold" text-anchor="middle" fill="#fff">$</text></g><g transform="translate(299.80 145.50)"><circle cx="3.5" cy="-3.5" r="3.6" fill="#fff" opacity="0.95"/><path d="M-2 7.5 C-1.5 2.5 1 1 3.5 1 C6 1 9 2.5 10 7.5Z" fill="#fff"/><circle cx="-3" cy="-3" r="4.1" fill="#fff" stroke="#cb404c" stroke-width="0.7"/><path d="M-10.3 7.6 C-10 2.5 -6.5 0.8 -3 0.8 C0.5 0.8 4 2.5 4.3 7.6Z" fill="#fff" stroke="#cb404c" stroke-width="0.7"/></g><g transform="translate(264.80 198.60)"><path d="M-0.8 -8.6 A9.2 9.2 0 1 0 8.4 0.6 H-0.8Z" fill="#fff"/><path d="M1 -10.2 V-1.2 H10 A9 9 0 0 0 1 -10.2Z" fill="#fff"/><path d="M2.6 -8.3 V-2.8 H8" fill="none" stroke="#d05562" stroke-width="1"/></g><g transform="translate(211.00 198.00)"><path d="M-10 10 V-9.5 H0.5 V10 H-2.8 V6.5 H-6.6 V10Z" fill="#fff"/><rect x="-8.5" y="-7.8" width="1.7" height="2" fill="#d76e78"/><rect x="-5.5" y="-7.8" width="1.7" height="2" fill="#d76e78"/><rect x="-2.5" y="-7.8" width="1.7" height="2" fill="#d76e78"/><rect x="-8.5" y="-4.3" width="1.7" height="2" fill="#d76e78"/><rect x="-5.5" y="-4.3" width="1.7" height="2" fill="#d76e78"/><rect x="-2.5" y="-4.3" width="1.7" height="2" fill="#d76e78"/><rect x="-8.5" y="-0.8" width="1.7" height="2" fill="#d76e78"/><rect x="-5.5" y="-0.8" width="1.7" height="2" fill="#d76e78"/><rect x="-2.5" y="-0.8" width="1.7" height="2" fill="#d76e78"/><rect x="-8.5" y="2.7" width="1.7" height="2" fill="#d76e78"/><rect x="-5.5" y="2.7" width="1.7" height="2" fill="#d76e78"/><rect x="-2.5" y="2.7" width="1.7" height="2" fill="#d76e78"/><path d="M1.8 10 V-2.6 H10.4 V10Z" fill="#fff"/><rect x="3.4" y="-0.6" width="5.4" height="1.1" fill="#d76e78"/><rect x="3.4" y="2.2" width="5.4" height="1.1" fill="#d76e78"/><rect x="3.4" y="5.0" width="5.4" height="1.1" fill="#d76e78"/></g><g transform="translate(175.80 145.50)"><circle cx="0.9" cy="-3.6" r="7" fill="#fff"/><path d="M-2.2 -7.6 L0.9 -3.6 L4 -7.6 M0.9 -3.6 V1.6 M-1.9 -2.6 H3.7 M-1.9 -0.6 H3.7" stroke="#b05060" stroke-width="0.9" fill="none"/><path d="M-9 5.5 C-8 2 -4 0.8 -1 1.8 L3 2.6 C4.5 2.8 4.8 4 3.5 4.3 L0 4.6 L5 4.4 L9.5 1.5 C10.5 2 10.2 3 9.5 3.8 C7 6.5 4.5 7.6 1.5 7.8 H-7.5 C-8.6 7.8 -9.2 6.8 -9 5.5Z" fill="#fff"/><path d="M3.2 4.4 L6 3.8" stroke="#c07080" stroke-width="0.5"/></g></svg><div class="a" style="right:324.20px;top:75.15px;font-size:9.82px;line-height:11.29px;color:#a51d27;font-weight:bold;">Add your title</div><div class="a" style="right:324.20px;top:90.03px;font-size:6.90px;line-height:7.93px;color:#1a1a1a;">Title can be changed by clicking</div><div class="a" style="right:324.20px;top:100.08px;font-size:6.90px;line-height:7.93px;color:#1a1a1a;">and re-entering, please enter the</div><div class="a" style="right:324.20px;top:110.13px;font-size:6.90px;line-height:7.93px;color:#1a1a1a;">caption here</div><div class="a" style="right:340.00px;top:136.85px;font-size:9.82px;line-height:11.29px;color:#a51d27;font-weight:bold;">Add your title</div><div class="a" style="right:340.00px;top:151.73px;font-size:6.90px;line-height:7.93px;color:#1a1a1a;">Title can be changed by clicking</div><div class="a" style="right:340.00px;top:161.78px;font-size:6.90px;line-height:7.93px;color:#1a1a1a;">and re-entering, please enter the</div><div class="a" style="right:340.00px;top:171.83px;font-size:6.90px;line-height:7.93px;color:#1a1a1a;">caption here</div><div class="a" style="right:324.20px;top:194.85px;font-size:9.82px;line-height:11.29px;color:#a51d27;font-weight:bold;">Add your title</div><div class="a" style="right:324.20px;top:209.73px;font-size:6.90px;line-height:7.93px;color:#1a1a1a;">Title can be changed by clicking</div><div class="a" style="right:324.20px;top:219.78px;font-size:6.90px;line-height:7.93px;color:#1a1a1a;">and re-entering, please enter the</div><div class="a" style="right:324.20px;top:229.83px;font-size:6.90px;line-height:7.93px;color:#1a1a1a;">caption here</div><div class="a" style="left:323.70px;top:75.15px;font-size:9.82px;line-height:11.29px;color:#a51d27;font-weight:bold;">Add your title</div><div class="a" style="left:323.70px;top:90.03px;font-size:6.90px;line-height:7.93px;color:#1a1a1a;">Title can be changed by clicking</div><div class="a" style="left:323.70px;top:100.08px;font-size:6.90px;line-height:7.93px;color:#1a1a1a;">and re-entering, please enter</div><div class="a" style="left:323.70px;top:110.13px;font-size:6.90px;line-height:7.93px;color:#1a1a1a;">the caption here</div><div class="a" style="left:343.30px;top:136.85px;font-size:9.82px;line-height:11.29px;color:#a51d27;font-weight:bold;">Add your title</div><div class="a" style="left:343.30px;top:151.73px;font-size:6.90px;line-height:7.93px;color:#1a1a1a;">Title can be changed by clicking</div><div class="a" style="left:343.30px;top:161.78px;font-size:6.90px;line-height:7.93px;color:#1a1a1a;">and re-entering, please enter</div><div class="a" style="left:343.30px;top:171.83px;font-size:6.90px;line-height:7.93px;color:#1a1a1a;">the caption here</div><div class="a" style="left:323.70px;top:194.85px;font-size:9.82px;line-height:11.29px;color:#a51d27;font-weight:bold;">Add your title</div><div class="a" style="left:323.70px;top:209.73px;font-size:6.90px;line-height:7.93px;color:#1a1a1a;">Title can be changed by clicking</div><div class="a" style="left:323.70px;top:219.78px;font-size:6.90px;line-height:7.93px;color:#1a1a1a;">and re-entering, please enter</div><div class="a" style="left:323.70px;top:229.83px;font-size:6.90px;line-height:7.93px;color:#1a1a1a;">the caption here</div><svg class="logo" width="16" height="12" viewBox="0 0 16 12" style="left:12px;top:253px"><path d="M2.6 1.8 L4.2 1.6 L5.2 3.6 L5.6 1.8 L6.4 2 L6.2 6.6 L4.8 6.6 L4.6 4.6 L3 6.8 L1.8 6.6 L3.8 3.8Z" fill="#8e1525"/><rect x="1.2" y="8" width="13" height="0.9" fill="#c9a0a8"/><rect x="1.2" y="9.9" width="8" height="0.7" fill="#c4c4c4"/></svg><div class="pn">31</div></div></body></html>
